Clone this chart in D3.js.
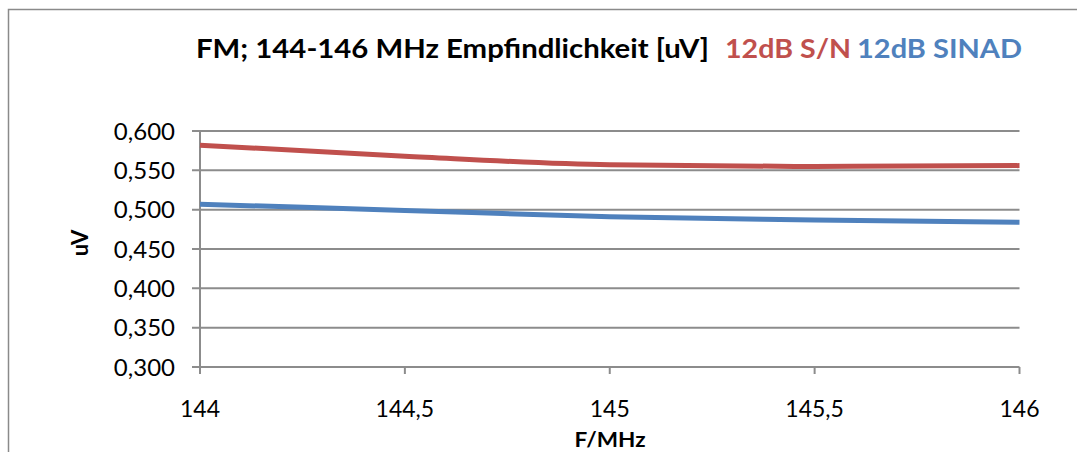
<!DOCTYPE html>
<html>
<head>
<meta charset="utf-8">
<script src="https://cdn.jsdelivr.net/npm/d3@7/dist/d3.min.js"></script>
<style>
  html, body { margin: 0; padding: 0; background: #fff; }
  svg { display: block; font-family: Lato, "Open Sans", sans-serif; }
</style>
</head>
<body>
<svg id="chart" width="1077" height="452"></svg>
<script>
// Frequencies (MHz) where sensitivity was measured
const freqs = [144, 144.5, 145, 145.5, 146];
// Sensitivity in uV for 12 dB S/N and 12 dB SINAD
const snValues = [0.582, 0.568, 0.557, 0.555, 0.556];
const sinadValues = [0.507, 0.499, 0.491, 0.487, 0.484];
// Axis ticks
const yTicks = [0.300, 0.350, 0.400, 0.450, 0.500, 0.550, 0.600];
const xTicks = [144, 144.5, 145, 145.5, 146];

const svg = d3.select("#chart");
const grid = "#8c8c8c";
const red = "#c0504d", blue = "#4f81bd";

// chart frame
svg.append("path")
  .attr("d", "M8.5,452 L8.5,9.5 L1077,9.5")
  .attr("fill", "none").attr("stroke", "#8a8a8a").attr("stroke-width", 1.5);

const x = d3.scaleLinear().domain([144, 146]).range([200, 1019.5]);
const y = d3.scaleLinear().domain([0.300, 0.600]).range([367, 131]);

const fmt = v => d3.format(".3f")(v).replace(".", ",");
const fmtX = v => String(v).replace(".", ",");

// horizontal gridlines
svg.append("g").selectAll("line").data(yTicks).join("line")
  .attr("x1", 192).attr("x2", x(146))
  .attr("y1", d => y(d)).attr("y2", d => y(d))
  .attr("stroke", grid).attr("stroke-width", 2);

// y axis line
svg.append("line")
  .attr("x1", 200).attr("x2", 200).attr("y1", y(0.6)).attr("y2", 374)
  .attr("stroke", grid).attr("stroke-width", 2);

// x tick marks
svg.append("g").selectAll("line").data(xTicks).join("line")
  .attr("x1", d => x(d)).attr("x2", d => x(d))
  .attr("y1", 367).attr("y2", 374)
  .attr("stroke", grid).attr("stroke-width", 2);

// y tick labels
svg.append("g").selectAll("text").data(yTicks).join("text")
  .attr("x", 175).attr("y", d => y(d) + 8.5)
  .attr("text-anchor", "end")
  .attr("font-size", 24).attr("fill", "#000")
  .text(fmt);

// x tick labels
svg.append("g").selectAll("text").data(xTicks).join("text")
  .attr("x", d => x(d)).attr("y", 417)
  .attr("text-anchor", "middle")
  .attr("font-size", 23).attr("fill", "#000")
  .text(fmtX);

// axis titles
svg.append("text")
  .attr("x", 610).attr("y", 447)
  .attr("text-anchor", "middle")
  .attr("font-size", 21).attr("font-weight", "bold")
  .attr("textLength", 71).attr("lengthAdjust", "spacingAndGlyphs")
  .text("F/MHz");

svg.append("text")
  .attr("transform", "translate(88,243) rotate(-90)")
  .attr("text-anchor", "middle")
  .attr("font-size", 22).attr("font-weight", "bold")
  .text("uV");

// data lines
const line = d3.line()
  .x((d, i) => x(freqs[i]))
  .y(d => y(d))
  .curve(d3.curveMonotoneX);

svg.append("path").datum(snValues)
  .attr("d", line).attr("fill", "none")
  .attr("stroke", red).attr("stroke-width", 5);
svg.append("path").datum(sinadValues)
  .attr("d", line).attr("fill", "none")
  .attr("stroke", blue).attr("stroke-width", 5);

// title, with the series names coloured like their lines
const titleParts = [
  { text: "FM; 144-146 MHz Empfindlichkeit [uV]", x: 196, w: 513, color: "#000" },
  { text: "12dB S/N", x: 725, w: 126, color: red },
  { text: "12dB SINAD", x: 857, w: 165, color: blue }
];
svg.append("g").selectAll("text").data(titleParts).join("text")
  .attr("x", d => d.x).attr("y", 58)
  .attr("font-size", 27).attr("font-weight", "bold")
  .attr("fill", d => d.color)
  .attr("textLength", d => d.w)
  .attr("lengthAdjust", "spacingAndGlyphs")
  .text(d => d.text);
</script>
</body>
</html>
